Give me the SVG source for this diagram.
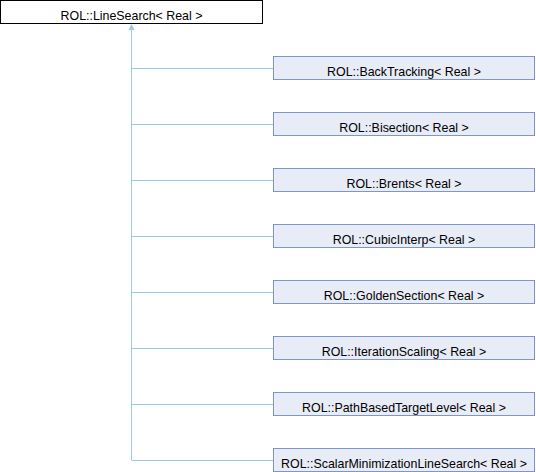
<svg xmlns="http://www.w3.org/2000/svg" width="536" height="472" viewBox="0 0 536 472">
<style>
.base{fill:#ffffff;stroke:#000000;stroke-width:1}
.node{fill:#E8ECF6;stroke:#7F95CB;stroke-width:1}
.lbl{font-family:"Liberation Sans",Arial,sans-serif;font-size:12.4px;fill:#000000;text-anchor:middle}
.edge{stroke:#9ACBE5;stroke-width:1;fill:none}
</style>
<rect width="536" height="472" fill="#ffffff"/>
<g id="connectors">
<line class="edge" x1="131.5" y1="26" x2="131.5" y2="460"/>
<polygon points="131.5,24 128.5,30 134.5,30" fill="#9ACBE5"/>
<line class="edge" x1="131.5" y1="68.5" x2="273.5" y2="68.5"/>
<line class="edge" x1="131.5" y1="124.5" x2="273.5" y2="124.5"/>
<line class="edge" x1="131.5" y1="180.5" x2="273.5" y2="180.5"/>
<line class="edge" x1="131.5" y1="236.5" x2="273.5" y2="236.5"/>
<line class="edge" x1="131.5" y1="292.5" x2="273.5" y2="292.5"/>
<line class="edge" x1="131.5" y1="348.5" x2="273.5" y2="348.5"/>
<line class="edge" x1="131.5" y1="404.5" x2="273.5" y2="404.5"/>
<line class="edge" x1="131.5" y1="460.5" x2="273.5" y2="460.5"/>
</g>
<g id="LineSearch"><rect class="base" x="0.5" y="0.5" width="262" height="23"/><text class="lbl" x="131.5" y="20">ROL::LineSearch&lt; Real &gt;</text></g>
<g id="BackTracking"><rect class="node" x="273.5" y="56.5" width="261" height="23"/><text class="lbl" x="404" y="76">ROL::BackTracking&lt; Real &gt;</text></g>
<g id="Bisection"><rect class="node" x="273.5" y="112.5" width="261" height="23"/><text class="lbl" x="404" y="132">ROL::Bisection&lt; Real &gt;</text></g>
<g id="Brents"><rect class="node" x="273.5" y="168.5" width="261" height="23"/><text class="lbl" x="404" y="188">ROL::Brents&lt; Real &gt;</text></g>
<g id="CubicInterp"><rect class="node" x="273.5" y="224.5" width="261" height="23"/><text class="lbl" x="404" y="244">ROL::CubicInterp&lt; Real &gt;</text></g>
<g id="GoldenSection"><rect class="node" x="273.5" y="280.5" width="261" height="23"/><text class="lbl" x="404" y="300">ROL::GoldenSection&lt; Real &gt;</text></g>
<g id="IterationScaling"><rect class="node" x="273.5" y="336.5" width="261" height="23"/><text class="lbl" x="404" y="356">ROL::IterationScaling&lt; Real &gt;</text></g>
<g id="PathBasedTargetLevel"><rect class="node" x="273.5" y="392.5" width="261" height="23"/><text class="lbl" x="404" y="412">ROL::PathBasedTargetLevel&lt; Real &gt;</text></g>
<g id="ScalarMinimizationLineSearch"><rect class="node" x="273.5" y="448.5" width="261" height="23"/><text class="lbl" x="404" y="468">ROL::ScalarMinimizationLineSearch&lt; Real &gt;</text></g>
</svg>
